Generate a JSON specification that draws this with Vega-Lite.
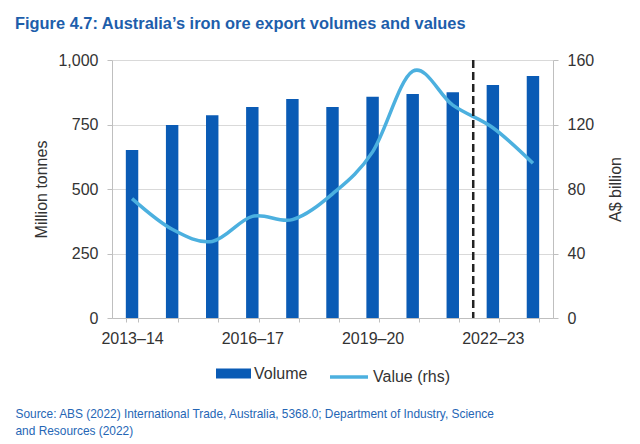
{
  "$schema": "https://vega.github.io/schema/vega-lite/v6.json",
  "width": 441,
  "height": 258,
  "autosize": {"type": "none"},
  "padding": {"left": 112, "top": 60, "right": 87, "bottom": 126},
  "background": "white",
  "title": {
    "text": "Figure 4.7: Australia’s iron ore export volumes and values",
    "anchor": "start",
    "frame": "group",
    "dx": -97,
    "offset": 20,
    "font": "Liberation Sans",
    "fontSize": 16.4,
    "fontWeight": "bold",
    "color": "#1d5eab"
  },
  "config": {
    "view": {"stroke": null},
    "font": "Liberation Sans",
    "axis": {
      "labelFont": "Liberation Sans",
      "titleFont": "Liberation Sans",
      "labelFontSize": 16,
      "titleFontSize": 16,
      "labelColor": "#333333",
      "titleColor": "#333333",
      "titleFontWeight": "normal",
      "domainColor": "#bfbfbf",
      "tickColor": "#bfbfbf",
      "gridColor": "#d9d9d9"
    },
    "legend": {
      "labelFont": "Liberation Sans",
      "labelFontSize": 16,
      "labelColor": "#333333",
      "padding": 0,
      "labelOffset": 3
    }
  },
  "data": {
    "values": [
      {"year": "2013–14", "volume": 651, "value": 74},
      {"year": "2014–15", "volume": 748, "value": 55},
      {"year": "2015–16", "volume": 786, "value": 47.5},
      {"year": "2016–17", "volume": 818, "value": 63},
      {"year": "2017–18", "volume": 849, "value": 61},
      {"year": "2018–19", "volume": 818, "value": 77},
      {"year": "2019–20", "volume": 858, "value": 103},
      {"year": "2020–21", "volume": 868, "value": 153},
      {"year": "2021–22", "volume": 875, "value": 132},
      {"year": "2022–23", "volume": 903, "value": 118},
      {"year": "2023–24", "volume": 938, "value": 96}
    ]
  },
  "encoding": {
    "x": {
      "field": "year",
      "type": "ordinal",
      "sort": null,
      "scale": {"paddingInner": 0.69, "paddingOuter": 0.345},
      "axis": {
        "labelAngle": 0,
        "tickBand": "extent",
        "tickSize": 4,
        "labelPadding": 8,
        "labelExpr": "indexof(['2013–14','2016–17','2019–20','2022–23'], datum.value) >= 0 ? datum.value : ''",
        "title": ["Source: ABS (2022) International Trade, Australia, 5368.0; Department of Industry, Science", "and Resources (2022)"],
        "titleFontSize": 11.9,
        "titleColor": "#2566b5",
        "titleAnchor": "start",
        "titleAlign": "left",
        "titleBaseline": "alphabetic",
        "titleX": -97,
        "titleY": 99,
        "titleLineHeight": 17
      }
    }
  },
  "layer": [
    {
      "mark": {"type": "bar", "color": "#0a5bb5"},
      "encoding": {
        "y": {
          "field": "volume",
          "type": "quantitative",
          "scale": {"domain": [0, 1000]},
          "axis": {
            "title": "Million tonnes",
            "values": [0, 250, 500, 750, 1000],
            "format": ",.0f",
            "tickSize": 5,
            "labelPadding": 9,
            "titlePadding": 8,
            "grid": true
          }
        },
        "fill": {
          "datum": "Volume",
          "type": "nominal",
          "scale": {"domain": ["Volume"], "range": ["#0a5bb5"]},
          "legend": {
            "orient": "none",
            "legendX": 104,
            "legendY": 296,
            "title": null,
            "symbolType": "M-1,-0.28H1V0.28H-1Z",
            "symbolSize": 1225,
            "symbolStrokeWidth": 0
          }
        }
      }
    },
    {
      "mark": {"type": "line", "interpolate": "cardinal", "strokeWidth": 3.5},
      "encoding": {
        "y": {
          "field": "value",
          "type": "quantitative",
          "scale": {"domain": [0, 160]},
          "axis": {
            "orient": "right",
            "title": "A$ billion",
            "values": [0, 40, 80, 120, 160],
            "tickSize": 5,
            "labelPadding": 9,
            "titlePadding": 30,
            "titleAngle": -90,
            "grid": false
          }
        },
        "stroke": {
          "datum": "Value (rhs)",
          "type": "nominal",
          "scale": {"domain": ["Value (rhs)"], "range": ["#4cb0df"]},
          "legend": {
            "orient": "none",
            "legendX": 216,
            "legendY": 296,
            "title": null,
            "symbolType": "stroke",
            "symbolSize": 1444,
            "symbolStrokeWidth": 3.5
          }
        }
      }
    },
    {
      "data": {"values": [{"year": "2022–23"}]},
      "mark": {"type": "rule", "color": "#222222", "strokeWidth": 2.5, "strokeDash": [8, 4]},
      "encoding": {
        "x": {"field": "year", "type": "ordinal", "bandPosition": -1.08}
      }
    }
  ],
  "resolve": {"scale": {"y": "independent", "fill": "independent", "stroke": "independent"}}
}
